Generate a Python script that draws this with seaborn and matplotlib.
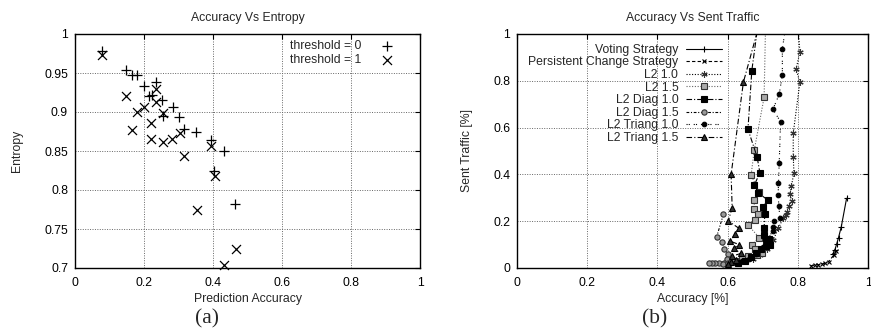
import matplotlib
matplotlib.use("Agg")
import matplotlib.pyplot as plt
import seaborn as sns
import numpy as np

# ---------------- data: panel (a) ----------------
t0_acc = [0.078, 0.147, 0.164, 0.179, 0.201, 0.234, 0.215, 0.223, 0.251, 0.256,
          0.283, 0.301, 0.317, 0.351, 0.393, 0.431, 0.404, 0.464]
t0_ent = [0.978, 0.954, 0.947, 0.947, 0.933, 0.939, 0.921, 0.922, 0.916, 0.895,
          0.906, 0.893, 0.878, 0.874, 0.864, 0.850, 0.825, 0.782]
t1_acc = [0.079, 0.147, 0.181, 0.201, 0.164, 0.219, 0.219, 0.234, 0.234, 0.254,
          0.254, 0.282, 0.304, 0.317, 0.393, 0.406, 0.353, 0.466, 0.432]
t1_ent = [0.973, 0.920, 0.900, 0.906, 0.877, 0.886, 0.865, 0.929, 0.913, 0.899,
          0.862, 0.865, 0.873, 0.843, 0.856, 0.818, 0.774, 0.724, 0.704]

# ---------------- data: panel (b) ----------------
voting_x = [0.900, 0.906, 0.911, 0.916, 0.924, 0.939]
voting_y = [0.060, 0.079, 0.104, 0.130, 0.177, 0.298]
persist_x = [0.838, 0.848, 0.858, 0.868, 0.877, 0.888, 0.902, 0.909]
persist_y = [0.010, 0.012, 0.014, 0.017, 0.020, 0.027, 0.055, 0.072]
l2_10_x = [0.797, 0.806, 0.795, 0.806, 0.787, 0.787, 0.789, 0.782, 0.777, 0.783,
           0.775, 0.770, 0.765, 0.758, 0.745, 0.730, 0.712, 0.692, 0.672]
l2_10_y = [1.10, 0.924, 0.849, 0.794, 0.576, 0.476, 0.407, 0.352, 0.315, 0.288,
           0.265, 0.240, 0.225, 0.213, 0.170, 0.120, 0.082, 0.055, 0.038]
l2_15_x = [0.709, 0.704, 0.676, 0.667, 0.690, 0.676, 0.676, 0.686, 0.678, 0.658,
           0.690, 0.669, 0.678, 0.699, 0.683, 0.658, 0.640, 0.620]
l2_15_y = [1.10, 0.729, 0.504, 0.398, 0.323, 0.290, 0.252, 0.229, 0.205, 0.184,
           0.130, 0.100, 0.080, 0.066, 0.057, 0.050, 0.040, 0.030]
diag10_x = [0.692, 0.669, 0.658, 0.684, 0.692, 0.676, 0.688, 0.714, 0.702, 0.706,
            0.704, 0.704, 0.710, 0.719, 0.720, 0.709, 0.695, 0.680, 0.668, 0.650, 0.630]
diag10_y = [1.10, 0.844, 0.593, 0.475, 0.407, 0.354, 0.320, 0.291, 0.262, 0.230,
            0.171, 0.143, 0.122, 0.126, 0.100, 0.093, 0.083, 0.062, 0.048, 0.030, 0.020]
diag15_x = [0.588, 0.569, 0.585, 0.591, 0.600, 0.597, 0.590, 0.575, 0.565, 0.556,
            0.546, 0.588, 0.600, 0.608]
diag15_y = [0.229, 0.134, 0.110, 0.080, 0.060, 0.040, 0.022, 0.020, 0.020, 0.020,
            0.020, 0.018, 0.020, 0.022]
tri10_x = [0.772, 0.756, 0.756, 0.747, 0.729, 0.751, 0.747, 0.745, 0.744, 0.746,
           0.749, 0.731, 0.730, 0.728, 0.715, 0.700, 0.680, 0.660, 0.640]
tri10_y = [1.10, 0.936, 0.825, 0.742, 0.678, 0.625, 0.447, 0.365, 0.312, 0.265,
           0.215, 0.200, 0.175, 0.160, 0.120, 0.090, 0.060, 0.040, 0.030]
tri15_x = [0.701, 0.645, 0.610, 0.613, 0.602, 0.632, 0.622, 0.607, 0.633, 0.618,
           0.637, 0.612, 0.625, 0.610, 0.600]
tri15_y = [1.10, 0.794, 0.400, 0.258, 0.201, 0.170, 0.145, 0.115, 0.100, 0.085,
           0.062, 0.050, 0.035, 0.025, 0.015]

series_names = ["Voting Strategy", "Persistent Change Strategy", "L2 1.0", "L2 1.5",
                "L2 Diag 1.0", "L2 Diag 1.5", "L2 Triang 1.0", "L2 Triang 1.5"]

x01_ticks = ["0", "0.2", "0.4", "0.6", "0.8", "1"]
ent_ticks = ["0.7", "0.75", "0.8", "0.85", "0.9", "0.95", "1"]
traffic_ticks = ["0", "0.2", "0.4", "0.6", "0.8", "1"]

# ---------------- style ----------------
sns.set_style("white")
plt.rcParams['font.family'] = ['Liberation Sans', 'DejaVu Sans']
FS = 8.8

fig = plt.figure(figsize=(8.71, 3.29), dpi=100)
W, H = 871, 329
ax1 = fig.add_axes([75 / W, 1 - 268 / H, 345 / W, 234 / H])
ax2 = fig.add_axes([517 / W, 1 - 268 / H, 351 / W, 234 / H])

def style_axes(ax):
    for s in ax.spines.values():
        s.set_color("black")
        s.set_linewidth(1.0)
    ax.tick_params(direction="in", length=3.5, width=0.8, top=True, right=True,
                   labelsize=FS, colors="black")
    ax.tick_params(axis="x", pad=6.5)
    ax.tick_params(axis="y", pad=5)
    ax.grid(True, linestyle=(0, (1, 1.5)), color="#666666", linewidth=0.7)
    ax.set_axisbelow(True)

# ---------------- panel (a) ----------------
sns.scatterplot(x=t0_acc, y=t0_ent, marker="+", s=50, color="black", linewidth=0.9,
                label="threshold = 0", ax=ax1, clip_on=False, zorder=3)
sns.scatterplot(x=t1_acc, y=t1_ent, marker="x", s=42, color="black", linewidth=0.9,
                label="threshold = 1", ax=ax1, clip_on=False, zorder=3)
ax1.set_xlim(0, 1)
ax1.set_ylim(0.7, 1)
ax1.set_xticks(np.linspace(0, 1, len(x01_ticks)))
ax1.set_xticklabels(x01_ticks)
ax1.set_yticks(np.linspace(0.7, 1, len(ent_ticks)))
ax1.set_yticklabels(ent_ticks)
style_axes(ax1)
ax1.set_title("Accuracy Vs Entropy", fontsize=FS, pad=9)
ax1.set_xlabel("Prediction Accuracy", fontsize=FS)
ax1.set_ylabel("Entropy", fontsize=FS)
ax1.xaxis.set_label_coords(0.5, -0.105)
ax1.yaxis.set_label_coords(-0.150, 0.5)
ax1.legend(loc="upper right", bbox_to_anchor=(0.93, 0.973), frameon=False,
           markerfirst=False, fontsize=FS, handlelength=1.5, handletextpad=1.3,
           labelspacing=0.15, borderpad=0, borderaxespad=0)

# ---------------- panel (b) ----------------
xs = [voting_x, persist_x, l2_10_x, l2_15_x, diag10_x, diag15_x, tri10_x, tri15_x]
ys = [voting_y, persist_y, l2_10_y, l2_15_y, diag10_y, diag15_y, tri10_y, tri15_y]
styles = [
    dict(linestyle="-", marker="+", ms=4.5, mfc="black", mec="black", color="black"),
    dict(linestyle=(0, (3, 2)), marker="x", ms=3.5, mfc="black", mec="black", color="black"),
    dict(linestyle=(0, (1, 1.5)), marker=(6, 2, 0), ms=4.5, mfc="#333333", mec="#333333", color="black"),
    dict(linestyle=(0, (1, 1.5)), marker="s", ms=3.8, mfc="#aaaaaa", mec="#333333", color="#666666"),
    dict(linestyle=(0, (5, 1.8, 1, 1.8)), marker="s", ms=3.8, mfc="black", mec="black", color="black"),
    dict(linestyle=(0, (2.5, 1.5, 1, 1.5)), marker="o", ms=3.8, mfc="#999999", mec="#333333", color="black"),
    dict(linestyle=(0, (1, 1, 1, 3.5)), marker="o", ms=3.3, mfc="black", mec="black", color="black"),
    dict(linestyle=(0, (5, 2, 1, 2)), marker="^", ms=3.8, mfc="#333333", mec="black", color="black"),
]
for name, x, y, st in zip(series_names, xs, ys, styles):
    sns.lineplot(x=x, y=y, ax=ax2, sort=False, estimator=None, label=name,
                 linewidth=0.8, markeredgewidth=0.8, **st)

ax2.set_xlim(0, 1)
ax2.set_ylim(0, 1)
ax2.set_xticks(np.linspace(0, 1, len(x01_ticks)))
ax2.set_xticklabels(x01_ticks)
ax2.set_yticks(np.linspace(0, 1, len(traffic_ticks)))
ax2.set_yticklabels(traffic_ticks)
style_axes(ax2)
ax2.set_title("Accuracy Vs Sent Traffic", fontsize=FS, pad=9)
ax2.set_xlabel("Accuracy [%]", fontsize=FS)
ax2.set_ylabel("Sent Traffic [%]", fontsize=FS)
ax2.xaxis.set_label_coords(0.5, -0.105)
ax2.yaxis.set_label_coords(-0.126, 0.5)
ax2.legend(loc="upper right", bbox_to_anchor=(0.585, 0.958), frameon=False,
           markerfirst=False, fontsize=FS, handlelength=3.0, handletextpad=0.6,
           labelspacing=0.05, borderpad=0, borderaxespad=0, numpoints=1)

# sub-figure labels
fig.text(207 / W, 1 - 319 / H, "(a)", ha="center", va="center", fontsize=15.5,
         family=["Liberation Serif", "DejaVu Serif"])
fig.text(655 / W, 1 - 319 / H, "(b)", ha="center", va="center", fontsize=15.5,
         family=["Liberation Serif", "DejaVu Serif"])

fig.savefig("out.png", dpi=100)
